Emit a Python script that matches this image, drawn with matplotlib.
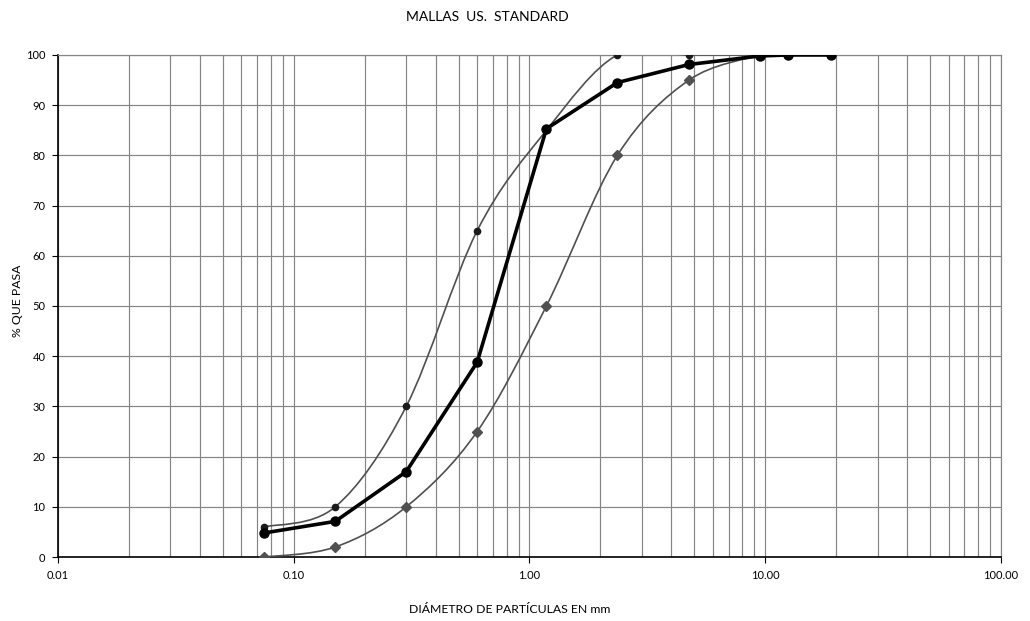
import matplotlib.pyplot as plt
from matplotlib.path import Path
from matplotlib.patches import PathPatch
from matplotlib.ticker import FixedLocator, LogLocator, NullFormatter
import numpy as np

plt.rcParams['font.family'] = ['Lato', 'DejaVu Sans']

# sieve openings (mm) and % passing
sieves_lim = [0.075, 0.15, 0.30, 0.60, 1.18, 2.36, 4.75, 9.50]
upper_lim = [6, 10, 30, 65, 85, 100, 100, 100]
lower_lim = [0, 2, 10, 25, 50, 80, 95, 100]

sieves_sample = [0.075, 0.15, 0.30, 0.60, 1.18, 2.36, 4.75, 9.50, 12.5, 19.0]
sample_pass = [4.8, 7.1, 17, 38.8, 85.3, 94.5, 98.1, 99.8, 100, 100]

x_ticks = [0.01, 0.1, 1, 10, 100]
x_ticklabels = ['0.01', '0.10', '1.00', '10.00', '100.00']
y_ticks = list(range(0, 101, 10))


def smooth_path(xs, ys):
    # excel-like smoothed line: catmull-rom bezier in log(x), y space
    lx = np.log10(xs)
    y = np.asarray(ys, dtype=float)
    n = len(lx)
    verts = [(xs[0], y[0])]
    codes = [Path.MOVETO]
    for i in range(n - 1):
        i0 = max(i - 1, 0)
        i3 = min(i + 2, n - 1)
        c1x = lx[i] + (lx[i + 1] - lx[i0]) / 6
        c1y = y[i] + (y[i + 1] - y[i0]) / 6
        c2x = lx[i + 1] - (lx[i3] - lx[i]) / 6
        c2y = y[i + 1] - (y[i3] - y[i]) / 6
        verts += [(10 ** c1x, c1y), (10 ** c2x, c2y), (xs[i + 1], y[i + 1])]
        codes += [Path.CURVE4] * 3
    return Path(verts, codes)


fig = plt.figure(figsize=(10.3, 6.21), dpi=100)
ax = fig.add_axes([0.0563, 0.103, 0.9155, 0.8085])
ax.set_xscale('log')
ax.set_xlim(0.01, 100)
ax.set_ylim(0, 100)

# grid
ax.xaxis.set_major_locator(FixedLocator(x_ticks))
ax.xaxis.set_minor_locator(LogLocator(base=10, subs=np.arange(2, 10)))
ax.xaxis.set_minor_formatter(NullFormatter())
ax.set_xticklabels(x_ticklabels)
ax.set_yticks(y_ticks)
ax.grid(True, which='both', axis='x', color='#858585', lw=0.85)
ax.grid(True, which='major', axis='y', color='#858585', lw=0.85)
ax.set_axisbelow(True)

# limits
ax.add_patch(PathPatch(smooth_path(sieves_lim, upper_lim), fill=False,
                       ec='#505050', lw=1.2, zorder=3))
ax.plot(sieves_lim, upper_lim, ls='none', marker='o', ms=4.5,
        color='#1a1a1a', zorder=4)
ax.add_patch(PathPatch(smooth_path(sieves_lim, lower_lim), fill=False,
                       ec='#505050', lw=1.2, zorder=3))
ax.plot(sieves_lim, lower_lim, ls='none', marker='D', ms=5.5,
        color='#505050', zorder=4)

# sample
ax.plot(sieves_sample, sample_pass, color='black', lw=2.6, marker='o',
        ms=6.5, zorder=5)

for s in ['top', 'right']:
    ax.spines[s].set_color('#858585')
    ax.spines[s].set_linewidth(0.85)
for s in ['left', 'bottom']:
    ax.spines[s].set_color('black')
    ax.spines[s].set_linewidth(1.2)

ax.tick_params(axis='both', which='major', labelsize=8, length=4,
               color='black', pad=5)
ax.tick_params(axis='x', which='minor', length=0)

fig.text(0.473, 0.972, 'MALLAS  US.  STANDARD', ha='center', va='center',
         fontsize=10)
fig.text(0.495, 0.018, 'DIÁMETRO DE PARTÍCULAS EN mm', ha='center',
         va='center', fontsize=8.8)
fig.text(0.017, 0.515, '% QUE PASA', ha='center', va='center',
         rotation=90, fontsize=8.8)

fig.savefig('out.png', dpi=100)
